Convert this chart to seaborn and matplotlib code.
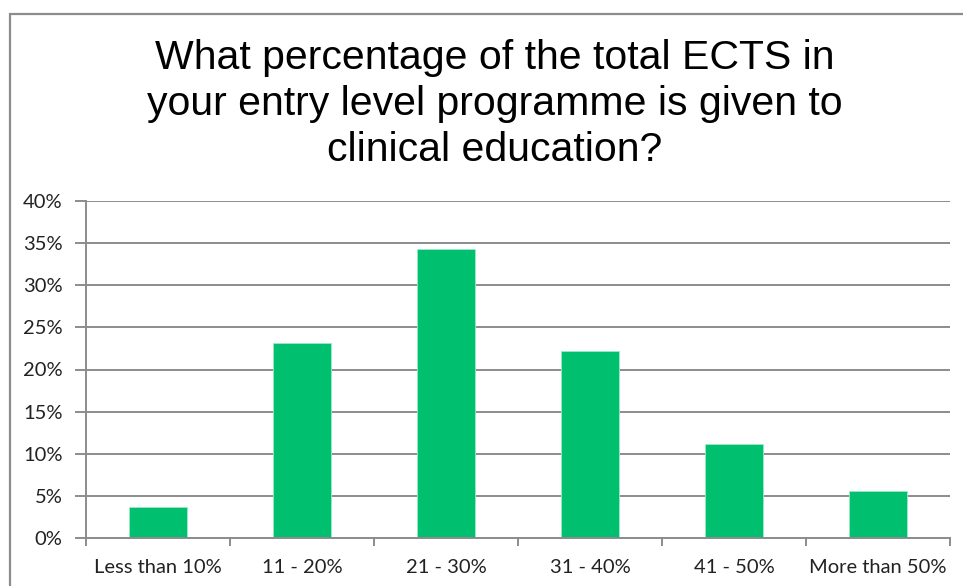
import matplotlib
matplotlib.use("Agg")
import matplotlib.pyplot as plt
import seaborn as sns
import pandas as pd
from matplotlib.patches import Rectangle
from matplotlib.ticker import FixedLocator

categories = ["Less than 10%", "11 - 20%", "21 - 30%", "31 - 40%", "41 - 50%", "More than 50%"]
values = [3.7, 23.1, 34.3, 22.2, 11.1, 5.6]
yticks = [0, 5, 10, 15, 20, 25, 30, 35, 40]
ytick_labels = ["0%", "5%", "10%", "15%", "20%", "25%", "30%", "35%", "40%"]
title = "What percentage of the total ECTS in\nyour entry level programme is given to\nclinical education?"

sns.set_theme(style="white")
plt.rcParams['font.family'] = ['Lato', 'DejaVu Sans']

df = pd.DataFrame({"cat": categories, "val": values})

fig = plt.figure(figsize=(9.63, 5.86), dpi=100)
ax = fig.add_axes([86/963, 1-538/586, (950-86)/963, (538-201)/586])

grey = "#8c8c8c"
ax.set_axisbelow(True)
ax.yaxis.grid(True, color=grey, linewidth=1.4)
ax.xaxis.grid(False)

sns.barplot(data=df, x="cat", y="val", color="#00BF6F", saturation=1, width=0.4,
            edgecolor="#9fe8c8", linewidth=0.6, ax=ax)

ax.set_xlim(-0.5, len(categories) - 0.5)
ax.set_ylim(0, 40)
ax.set_yticks(yticks)
ax.set_yticklabels(ytick_labels, fontsize=14.5, color="#222222")
ax.set_xlabel("")
ax.set_ylabel("")
ax.tick_params(axis="x", which="major", length=0, pad=15, labelsize=14.5, labelcolor="#222222")
ax.xaxis.set_minor_locator(FixedLocator([i - 0.5 for i in range(len(categories) + 1)]))
ax.tick_params(axis="x", which="minor", length=6, width=1.4, color=grey, bottom=True)
ax.tick_params(axis="y", which="major", length=8, width=1.4, color=grey, left=True, pad=9)

for s in ["top", "right"]:
    ax.spines[s].set_visible(False)
for s in ["left", "bottom"]:
    ax.spines[s].set_color(grey)
    ax.spines[s].set_linewidth(1.4)

fig.text(495/963, 1 - 104/586, title, ha="center", va="center", fontsize=29.5,
         family=["Liberation Sans", "DejaVu Sans"], linespacing=1.27, color="black")

fig.patches.append(Rectangle((10/963, -0.1), 1.2, 1 - 14/586 + 0.1,
                             transform=fig.transFigure, fill=False,
                             edgecolor=grey, linewidth=1.6))

fig.savefig("out.png", dpi=100)
